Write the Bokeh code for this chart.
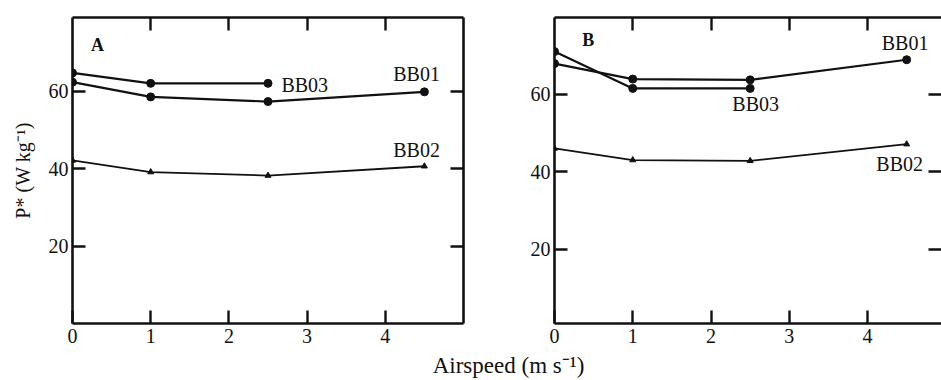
from bokeh.plotting import figure
from bokeh.models import LinearAxis, FixedTicker, Label, Range1d
from bokeh.layouts import column, row
from bokeh.embed import file_html
from bokeh.resources import INLINE
from bokeh.core.properties import value

# ---- data (airspeed m/s, P* W/kg) ----
speed_full = [0, 1, 2.5, 4.5]
speed_short = [0, 1, 2.5]

a_bb01 = [62.3, 58.5, 57.3, 59.8]
a_bb02 = [42.1, 39.1, 38.2, 40.6]
a_bb03 = [64.7, 62.0, 62.0]

b_bb01 = [67.9, 63.9, 63.7, 68.9]
b_bb02 = [46.0, 43.0, 42.8, 47.1]
b_bb03 = [71.0, 61.5, 61.5]

x_ticks = [0, 1, 2, 3, 4]
y_ticks = [20, 40, 60]
series_names = ["BB01", "BB02", "BB03"]

FONT = "Liberation Serif"
INK = "#111111"


def style_axis(ax, ticks, labels=True):
    ax.axis_line_width = 2.6
    ax.axis_line_color = INK
    ax.major_tick_line_color = INK
    ax.major_tick_line_width = 2.4
    ax.major_tick_in = 13
    ax.major_tick_out = 0
    ax.minor_tick_line_color = None
    ax.major_label_text_font = FONT
    ax.major_label_text_color = INK
    if labels:
        ax.major_label_text_font_size = "20px"
    else:
        ax.major_label_overrides = {t: "" for t in ticks}
        ax.major_label_text_font_size = "1px"
        ax.major_label_standoff = 0


def make_panel(width, x_end, y_lo, y_hi, top, bottom, left, right,
               bb01, bb02, bb03, letter, letter_pos, label_pos,
               show_right_line, ylabel):
    p = figure(width=width, height=350,
               x_range=Range1d(0, x_end), y_range=Range1d(y_lo, y_hi),
               output_backend="svg", toolbar_location=None,
               min_border_left=left, min_border_right=right,
               min_border_top=top, min_border_bottom=bottom)
    p.outline_line_color = None
    p.grid.visible = False
    p.background_fill_color = "white"
    p.border_fill_color = "white"

    p.xaxis.ticker = FixedTicker(ticks=x_ticks)
    p.yaxis.ticker = FixedTicker(ticks=y_ticks)
    style_axis(p.xaxis[0], x_ticks)
    style_axis(p.yaxis[0], y_ticks)
    p.xaxis.major_label_standoff = 5
    p.yaxis.major_label_standoff = 4
    if ylabel:
        p.yaxis.axis_label = ylabel
        p.yaxis.axis_label_text_font = FONT
        p.yaxis.axis_label_text_font_style = "normal"
        p.yaxis.axis_label_text_font_size = "20px"
        p.yaxis.axis_label_text_color = INK
        p.yaxis.axis_label_standoff = 12

    top_ticks = [1, 2, 3, 4]
    top_ax = LinearAxis(ticker=FixedTicker(ticks=top_ticks))
    style_axis(top_ax, top_ticks, labels=False)
    p.add_layout(top_ax, "above")

    right_ax = LinearAxis(ticker=FixedTicker(ticks=y_ticks))
    style_axis(right_ax, y_ticks, labels=False)
    if not show_right_line:
        right_ax.axis_line_color = None
    p.add_layout(right_ax, "right")

    # series
    p.line(speed_full, bb01, line_color=INK, line_width=2.2)
    p.scatter(speed_full, bb01, marker="circle", size=8, color=INK)
    p.line(speed_full, bb02, line_color=INK, line_width=1.8)
    p.scatter(speed_full, bb02, marker="triangle", size=6, color=INK)
    p.line(speed_short, bb03, line_color=INK, line_width=2.2)
    p.scatter(speed_short, bb03, marker="circle", size=8, color=INK)

    lx = [pos[0] for pos in label_pos]
    ly = [pos[1] for pos in label_pos]
    p.text(lx, ly, text=series_names, text_font=value(FONT),
           text_font_size="20px", text_color=INK,
           text_align="center", text_baseline="middle")

    p.add_layout(Label(x=letter_pos[0], y=letter_pos[1], text=letter,
                       text_font=FONT, text_font_size="18px",
                       text_font_style="bold", text_color=INK,
                       text_align="center", text_baseline="middle"))
    return p


pA = make_panel(480, 5.0, 0, 79, 15, 27, 72, 17, a_bb01, a_bb02, a_bb03,
                "A", (0.32, 72.0),
                [(4.4, 64.3), (4.4, 44.7), (2.97, 61.6)],
                True, "P* (W kg⁻¹)")
pB = make_panel(461, 4.945, 0.8, 79.8, 17, 27, 74, 0, b_bb01, b_bb02, b_bb03,
                "B", (0.43, 74.0),
                [(4.48, 73.3), (4.41, 42.1), (2.57, 57.4)],
                False, None)

pL = figure(width=941, height=30, x_range=Range1d(0, 1), y_range=Range1d(0, 1),
            output_backend="svg", toolbar_location=None,
            min_border_left=0, min_border_right=0, min_border_top=0,
            min_border_bottom=0)
pL.axis.visible = False
pL.grid.visible = False
pL.outline_line_color = None
pL.add_layout(Label(x=508, y=15, x_units="screen", y_units="screen",
                    text="Airspeed (m s⁻¹)", text_font=FONT,
                    text_font_size="23px", text_color=INK,
                    text_align="center", text_baseline="middle"))

layout = column(row(pA, pB), pL)
open("out.html", "w").write(file_html(layout, INLINE))
